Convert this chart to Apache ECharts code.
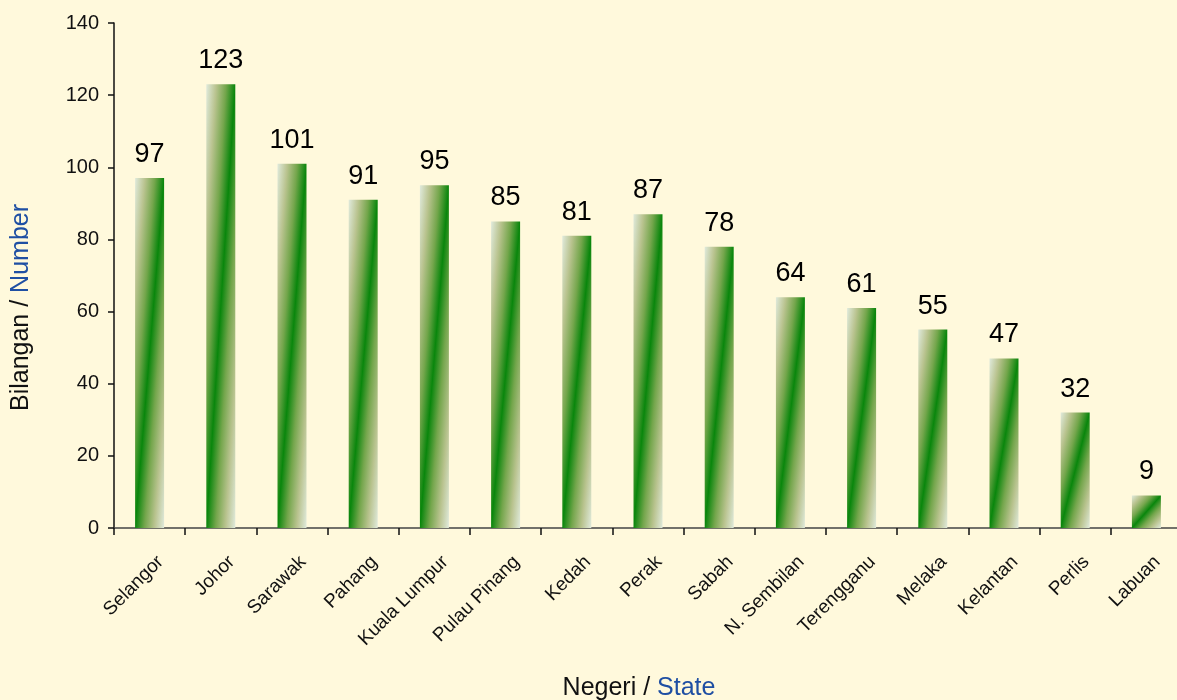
<!DOCTYPE html>
<html>
<head>
<meta charset="utf-8">
<script src="https://cdn.jsdelivr.net/npm/echarts@6/dist/echarts.min.js"></script>
<style>
html,body{margin:0;padding:0;background:#fff9dc;}
#c{width:1177px;height:700px;}
</style>
</head>
<body>
<div id="c"></div>
<script>
var categories = ['Selangor','Johor','Sarawak','Pahang','Kuala Lumpur','Pulau Pinang','Kedah','Perak','Sabah','N. Sembilan','Terengganu','Melaka','Kelantan','Perlis','Labuan'];
var values = [97,123,101,91,95,85,81,87,78,64,61,55,47,32,9];
var yTicks = {min:0, max:140, interval:20};

var FONT = '"Liberation Sans", Arial, sans-serif';
var BAR_W = 29;
var chart = echarts.init(document.getElementById('c'), null, {renderer:'canvas'});

function grad(h){
  var w = BAR_W;
  var d = h*h + w*w;
  var x2 = 2*h*h/d, y2 = 2*w*w/d;
  return new echarts.graphic.LinearGradient(0,0,x2,y2,[
    {offset:0, color:'#e0eadc'},
    {offset:0.17, color:'#b9c38f'},
    {offset:0.34, color:'#74a64c'},
    {offset:0.5, color:'#09860c'},
    {offset:0.66, color:'#74a64c'},
    {offset:0.83, color:'#b9c38f'},
    {offset:1, color:'#e0eadc'}
  ]);
}

function buildOption(data){
  return {
    backgroundColor:'#fff9dc',
    animation:false,
    textStyle:{fontFamily:FONT},
    grid:{left:114, top:23, right:-5, bottom:172, containLabel:false, outerBoundsMode:'none'},
    xAxis:{
      type:'category', data:categories,
      axisLine:{lineStyle:{color:'#444', width:1.5}},
      axisTick:{show:true, length:7, lineStyle:{color:'#111', width:1.5}},
      axisLabel:{rotate:45, margin:20, padding:[6,0,0,0], fontSize:19, color:'#111', fontFamily:FONT, interval:0, verticalAlign:'top'},
      name:'{a|Negeri / }{b|State}', nameLocation:'middle', nameGap:148,
      nameTextStyle:{padding:[0,18,0,0], rich:{a:{fontSize:25,color:'#111',fontFamily:FONT}, b:{fontSize:25,color:'#1f4fa3',fontFamily:FONT}}}
    },
    yAxis:{
      type:'value', min:yTicks.min, max:yTicks.max, interval:yTicks.interval,
      axisLine:{show:true, lineStyle:{color:'#111', width:1.5}},
      axisTick:{show:true, length:6, lineStyle:{color:'#111', width:1.5}},
      splitLine:{show:false},
      axisLabel:{fontSize:20, color:'#111', margin:15, fontFamily:FONT},
      name:'{a|Bilangan / }{b|Number}', nameLocation:'middle', nameGap:80, nameRotate:90,
      nameTextStyle:{padding:[0,64,0,0], rich:{a:{fontSize:25,color:'#111',fontFamily:FONT}, b:{fontSize:25,color:'#1f4fa3',fontFamily:FONT}}}
    },
    series:[{
      type:'bar', data:data, barWidth:BAR_W,
      label:{show:true, position:'top', distance:10, fontSize:27, color:'#000', fontFamily:FONT}
    }]
  };
}

chart.setOption(buildOption(values));
var y0 = chart.convertToPixel({yAxisIndex:0}, 0);
var data = values.map(function(v){
  var h = Math.abs(y0 - chart.convertToPixel({yAxisIndex:0}, v));
  return {value:v, itemStyle:{color:grad(h)}};
});
chart.setOption(buildOption(data));
</script>
</body>
</html>
